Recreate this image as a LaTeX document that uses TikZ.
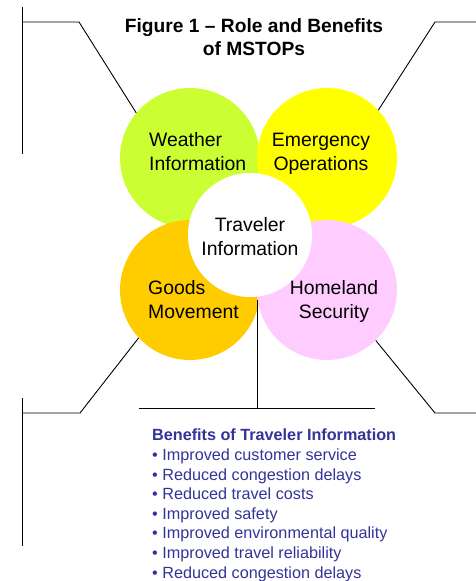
\documentclass[tikz,border=0pt]{standalone}
\usepackage{fontspec}
\setmainfont{Liberation Sans}
\definecolor{wgreen}{HTML}{CCFF33}
\definecolor{eyellow}{HTML}{FFFF00}
\definecolor{gorange}{HTML}{FFCC00}
\definecolor{hpink}{HTML}{FFCCFF}
\definecolor{benblue}{HTML}{333399}
\begin{document}
\begin{tikzpicture}[x=1pt,y=-1pt,
 disc/.style={circle, minimum size=140pt, inner sep=0pt, draw=none},
 lbl/.style={font=\fontsize{19.4}{24}\selectfont, inner sep=0pt},
 ttl/.style={font=\bfseries\fontsize{19.2}{23}\selectfont, align=center, inner sep=0pt, anchor=base},
 ln/.style={draw=black, line width=0.9pt},
 ben/.style={font=\fontsize{16.2}{19.6}\selectfont, text=benblue, align=left, anchor=base west, inner sep=0pt}]
\useasboundingbox (0,0) rectangle (476,581);
% discs
\node[disc, fill=wgreen] (w) at (190,158) {};
\node[disc, fill=eyellow] (e) at (327,158) {};
\node[disc, fill=gorange] (g) at (190,290) {};
\node[disc, fill=hpink] (h) at (327,290) {};
\node[circle, minimum size=124pt, inner sep=0pt, fill=white] (t) at (250,235) {};
% title (anchor = baseline of last line)
\node[ttl] (title) at (254,55) {Figure 1 -- Role and Benefits\\of MSTOPs};
% labels
\node[lbl, align=left, anchor=base west] (wl) at (149,170) {Weather\\Information};
\node[lbl, align=center, anchor=base] (el) at (321,170) {Emergency\\Operations};
\node[lbl, align=center, anchor=base] (tl) at (250,255) {Traveler\\Information};
\node[lbl, align=left, anchor=base west] (gl) at (148,318) {Goods\\Movement};
\node[lbl, align=center, anchor=base] (hl) at (334,318) {Homeland\\Security};
% benefits
\node[ben] (bt) at (152,578) {\textbf{Benefits of Traveler Information}\\
• Improved customer service\\
• Reduced congestion delays\\
• Reduced travel costs\\
• Improved safety\\
• Improved environmental quality\\
• Improved travel reliability\\
• Reduced congestion delays};
% callout coordinates
\coordinate (tla) at (22,7);
\coordinate (tlb) at (22,154);
\coordinate (tlc) at (22,22);
\coordinate (tlk) at (79,22);
\coordinate (tra) at (476,22);
\coordinate (trk) at (435,22);
\coordinate (bla) at (22,398);
\coordinate (blb) at (22,546);
\coordinate (blc) at (22,413);
\coordinate (blk) at (80,413);
\coordinate (brk) at (435,413);
\coordinate (bra) at (476,413);
\coordinate (ma) at (257,300);
\coordinate (mb) at (257,408);
\coordinate (mbl) at (139,408);
\coordinate (mbr) at (375,408);
% callouts
\draw[ln] (tla) -- (tlb);
\draw[ln] (tlc) -- (tlk) -- (w.140);
\draw[ln] (tra) -- (trk) -- (e.43);
\draw[ln] (bla) -- (blb);
\draw[ln] (blc) -- (blk) -- (g.223);
\draw[ln] (h.314) -- (brk) -- (bra);
\draw[ln] (ma) -- (mb);
\draw[ln] (mbl) -- (mbr);
\end{tikzpicture}
\end{document}
